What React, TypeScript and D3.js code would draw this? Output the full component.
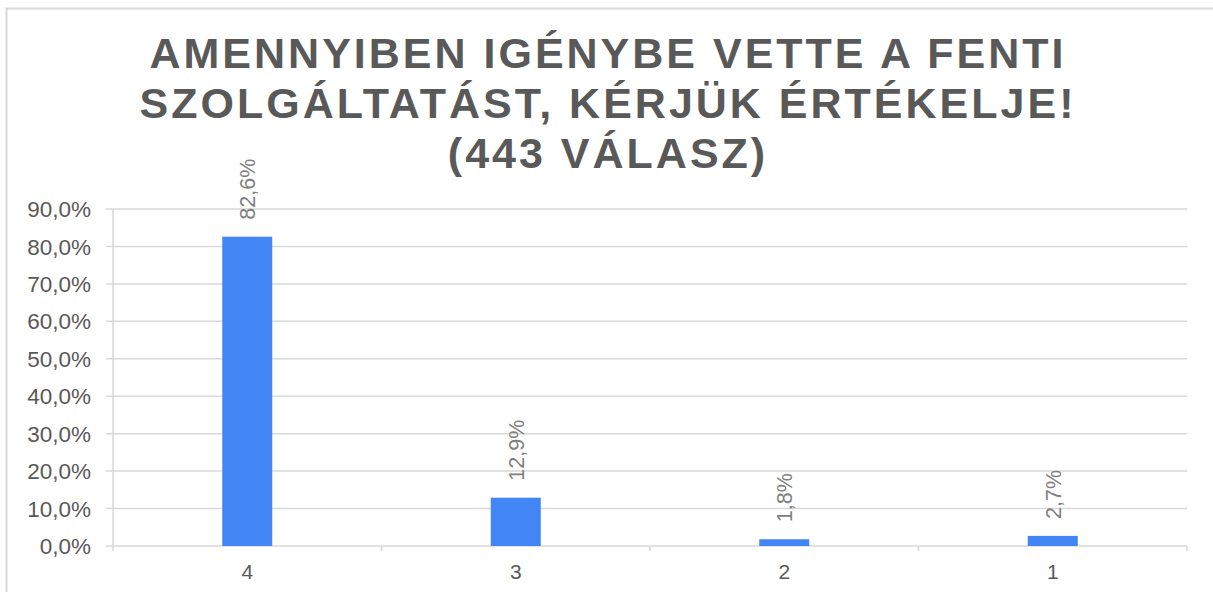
import React from "react";
import * as d3 from "d3";

const categories = ["4", "3", "2", "1"];
const values = [82.6, 12.9, 1.8, 2.7];
const yTicks = [0, 10, 20, 30, 40, 50, 60, 70, 80, 90];
const titleLines = [
  "AMENNYIBEN IGÉNYBE VETTE A FENTI",
  "SZOLGÁLTATÁST, KÉRJÜK ÉRTÉKELJE!",
  "(443 VÁLASZ)",
];

const W = 1213;
const H = 592;
const fmt = (v: number) => v.toFixed(1).replace(".", ",");

export default function App() {
  const x = d3.scaleBand<string>().domain(categories).range([113, 1187]).paddingInner(0).paddingOuter(0);
  const y = d3.scaleLinear().domain([0, 90]).range([546, 209]);
  const barW = 50;
  const font = "'Liberation Sans', Arial, sans-serif";

  return (
    <svg width={W} height={H} style={{ position: "absolute", left: 0, top: 0 }} fontFamily={font}>
      <rect x={0} y={0} width={W} height={H} fill="#fff" />
      <rect x={6.5} y={8.5} width={W + 20} height={H + 20} fill="#fff" stroke="#d9d9d9" strokeWidth={2} />
      {titleLines.map((t, i) => (
        <text
          key={i}
          x={608}
          y={68 + i * 50}
          textAnchor="middle"
          fontSize={43}
          fontWeight="bold"
          fill="#595959"
          letterSpacing={3}
        >
          {t}
        </text>
      ))}
      {yTicks.map((t) => (
        <g key={t}>
          <line x1={106} x2={1187} y1={y(t)} y2={y(t)} stroke="#d9d9d9" strokeWidth={1.5} />
          <text x={91} y={y(t)} dy="0.36em" textAnchor="end" fontSize={22.5} fill="#595959">
            {fmt(t)}%
          </text>
        </g>
      ))}
      <line x1={113} x2={113} y1={y(90)} y2={551} stroke="#d9d9d9" strokeWidth={1.5} />
      {categories.map((c) => (
        <line key={"t" + c} x1={(x(c) as number) + x.bandwidth()} x2={(x(c) as number) + x.bandwidth()} y1={546} y2={551} stroke="#d9d9d9" strokeWidth={1.5} />
      ))}
      {categories.map((c, i) => {
        const cx = (x(c) as number) + x.bandwidth() / 2;
        return (
          <g key={c}>
            <rect x={cx - barW / 2} y={y(values[i])} width={barW} height={546 - y(values[i])} fill="#4285f4" />
            <text
              transform={`translate(${cx},${y(values[i]) - 17}) rotate(-90)`}
              dy="0.36em"
              textAnchor="start"
              fontSize={21.5}
              fill="#808080"
            >
              {fmt(values[i])}%
            </text>
            <text x={cx} y={579} textAnchor="middle" fontSize={21} fill="#595959">
              {c}
            </text>
          </g>
        );
      })}
    </svg>
  );
}
